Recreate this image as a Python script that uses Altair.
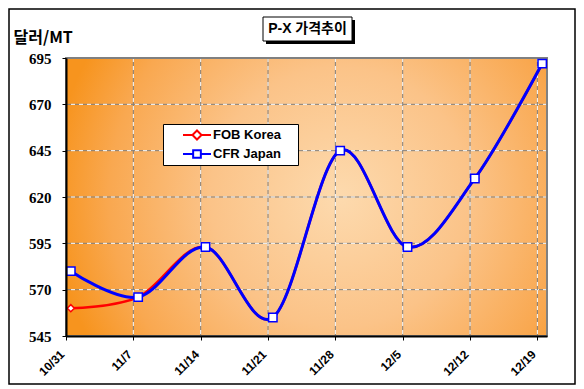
import altair as alt
import pandas as pd

# ---- data ----
dates = ["10/31", "11/7", "11/14", "11/21", "11/28", "12/5", "12/12", "12/19"]
fob_korea = [560, 566, 593, 555, 645, 593, 630, 692]
cfr_japan = [580, 566, 593, 555, 645, 593, 630, 692]
series_names = ["FOB Korea", "CFR Japan"]
series_colors = ["#FF0000", "#0000FF"]
y_ticks = [545, 570, 595, 620, 645, 670, 695]
x_ticks = [0, 7, 14, 21, 28, 35, 42, 49]
title_text = "P-X 가격추이"
y_title = "달러/MT"

W, H = 481, 278

rows = []
for name, vals in zip(series_names, [fob_korea, cfr_japan]):
    for i, v in enumerate(vals):
        rows.append({"series": name, "x": i * 7 + 0.5, "y": v, "date": dates[i]})
df = pd.DataFrame(rows)
df_fob = df[df.series == "FOB Korea"]
df_cfr = df[df.series == "CFR Japan"]

bg = pd.DataFrame([{"x": 0, "x2": 50, "y": 545, "y2": 695}])
hgrid = pd.DataFrame({"y": y_ticks[1:-1]})
vgrid = pd.DataFrame({"x": x_ticks[1:]})

label_expr = "[" + ",".join("'" + d + "'" for d in dates) + "][round(datum.value/7)]"

x_scale = alt.Scale(domain=[0, 50], nice=False, zero=False)
y_scale = alt.Scale(domain=[545, 695], nice=False, zero=False)

x_axis = alt.Axis(values=x_ticks, labelExpr=label_expr, labelAngle=315, labelAlign="right",
                  labelBaseline="middle", labelFont="Liberation Sans", labelFontSize=12,
                  labelFontWeight="bold", labelColor="black", labelPadding=12, labelOffset=-4,
                  labelFlush=False, labelOverlap=False, tickSize=4, tickColor="black", tickWidth=1,
                  domainColor="black", domainWidth=2, title=None, grid=False, zindex=1)
y_axis = alt.Axis(values=y_ticks, labelFont="Liberation Serif", labelFontSize=15,
                  labelFontWeight="bold", labelColor="black", labelPadding=11, tickSize=4,
                  tickColor="black", domainColor="black", domainWidth=2, grid=False, zindex=1,
                  title=y_title, titleAngle=0, titleX=-53, titleY=-16, titleAlign="left",
                  titleBaseline="alphabetic", titleFont="Noto Sans CJK KR", titleFontSize=16,
                  titleFontWeight="bold", titleColor="black", labelFlush=False)

X = alt.X("x:Q", scale=x_scale, axis=x_axis)
Y = alt.Y("y:Q", scale=y_scale, axis=y_axis)

stroke_scale = alt.Scale(domain=series_names, range=series_colors)

legend = alt.Legend(orient="none", legendX=97, legendY=66, title="\u00a0", titleOrient="right",
                    titlePadding=14, titleFontSize=4,
                    symbolSize=196,
                    symbolStrokeWidth=2, symbolOpacity=1, symbolFillColor="white",
                    fillColor="white", strokeColor="black", padding=3, rowPadding=2,
                    labelFont="Liberation Sans", labelFontSize=13, labelFontWeight="bold",
                    labelColor="black", symbolOffset=23, labelOffset=8)

diamond_path = "M-2,0H-0.65M0.65,0H2M0,-0.65L0.65,0L0,0.65L-0.65,0Z"
square_path = "M-2,0H-0.55M0.55,0H2M-0.55,-0.55H0.55V0.55H-0.55Z"

one = alt.Data(values=[{"k": 0}])

frame = alt.Chart(one).mark_rect(fill="white", stroke="black", strokeWidth=1.5).encode(
    x=alt.value(-57), x2=alt.value(509), y=alt.value(-49), y2=alt.value(326))

gradient = alt.RadialGradient(
    gradient="radial",
    stops=[alt.GradientStop(offset=0, color="#FDDAAE"),
           alt.GradientStop(offset=0.45, color="#FBC388"),
           alt.GradientStop(offset=0.8, color="#F9A850"),
           alt.GradientStop(offset=1, color="#F7941E")],
    x1=0.57, y1=0.5, r1=0, x2=0.57, y2=0.5, r2=0.6)

background = alt.Chart(bg).mark_rect(fill=gradient).encode(
    x=X, x2="x2", y=Y, y2="y2")

hg1 = alt.Chart(hgrid).mark_rule(color="#808080", strokeWidth=1).encode(y=Y)
hg2 = alt.Chart(hgrid).mark_rule(color="white", strokeWidth=1, strokeDash=[4, 4]).encode(y=Y)
vg1 = alt.Chart(vgrid).mark_rule(color="#808080", strokeWidth=1).encode(x=X)
vg2 = alt.Chart(vgrid).mark_rule(color="white", strokeWidth=1, strokeDash=[4, 4]).encode(x=X)

border = alt.Chart(bg).mark_rect(fillOpacity=0, stroke="#808080", strokeWidth=2).encode(
    x=X, x2="x2", y=Y, y2="y2")

line_fob = alt.Chart(df_fob).mark_line(interpolate="cardinal", strokeWidth=2.5,
                                       color=series_colors[0]).encode(x=X, y=Y)
line_cfr = alt.Chart(df_cfr).mark_line(interpolate="cardinal", strokeWidth=3,
                                       color=series_colors[1]).encode(x=X, y=Y)
pt_fob = alt.Chart(df_fob).mark_point(shape="diamond", size=50, fill="white", opacity=1,
                                      stroke=series_colors[0], strokeWidth=1.5).encode(x=X, y=Y)
pt_cfr = alt.Chart(df_cfr).mark_point(shape="square", size=70, fill="white", opacity=1,
                                      stroke=series_colors[1], strokeWidth=1.5).encode(x=X, y=Y)

legend_layer = alt.Chart(df).mark_point(opacity=0, fill="white").encode(
    x=X, y=Y,
    stroke=alt.Stroke("series:N", scale=stroke_scale, legend=legend),
    shape=alt.Shape("series:N", scale=alt.Scale(domain=series_names,
                                                range=[diamond_path, square_path]),
                    legend=legend))

t_shadow = alt.Chart(one).mark_rect(fill="black").encode(
    x=alt.value(200), x2=alt.value(289), y=alt.value(-38), y2=alt.value(-14))
t_box = alt.Chart(one).mark_rect(fill="white", stroke="black", strokeWidth=1).encode(
    x=alt.value(197), x2=alt.value(286), y=alt.value(-41), y2=alt.value(-17))
t_text = alt.Chart(one).mark_text(text=title_text, font="Liberation Sans, Noto Sans CJK KR",
                                  fontSize=14, fontWeight="bold", color="black",
                                  align="center", baseline="middle").encode(
    x=alt.value(241.5), y=alt.value(-29))

chart = alt.layer(frame, background, hg1, hg2, vg1, vg2, border, legend_layer, line_fob,
                  line_cfr, pt_fob, pt_cfr, t_shadow, t_box, t_text).properties(
    width=W, height=H,
    padding={"left": 58, "top": 50, "right": 29, "bottom": 49},
    autosize=alt.AutoSizeParams(type="none"),
    background="white",
).configure_view(stroke="transparent")

chart.save("out.html", embed_options={"renderer": "svg", "actions": False})
